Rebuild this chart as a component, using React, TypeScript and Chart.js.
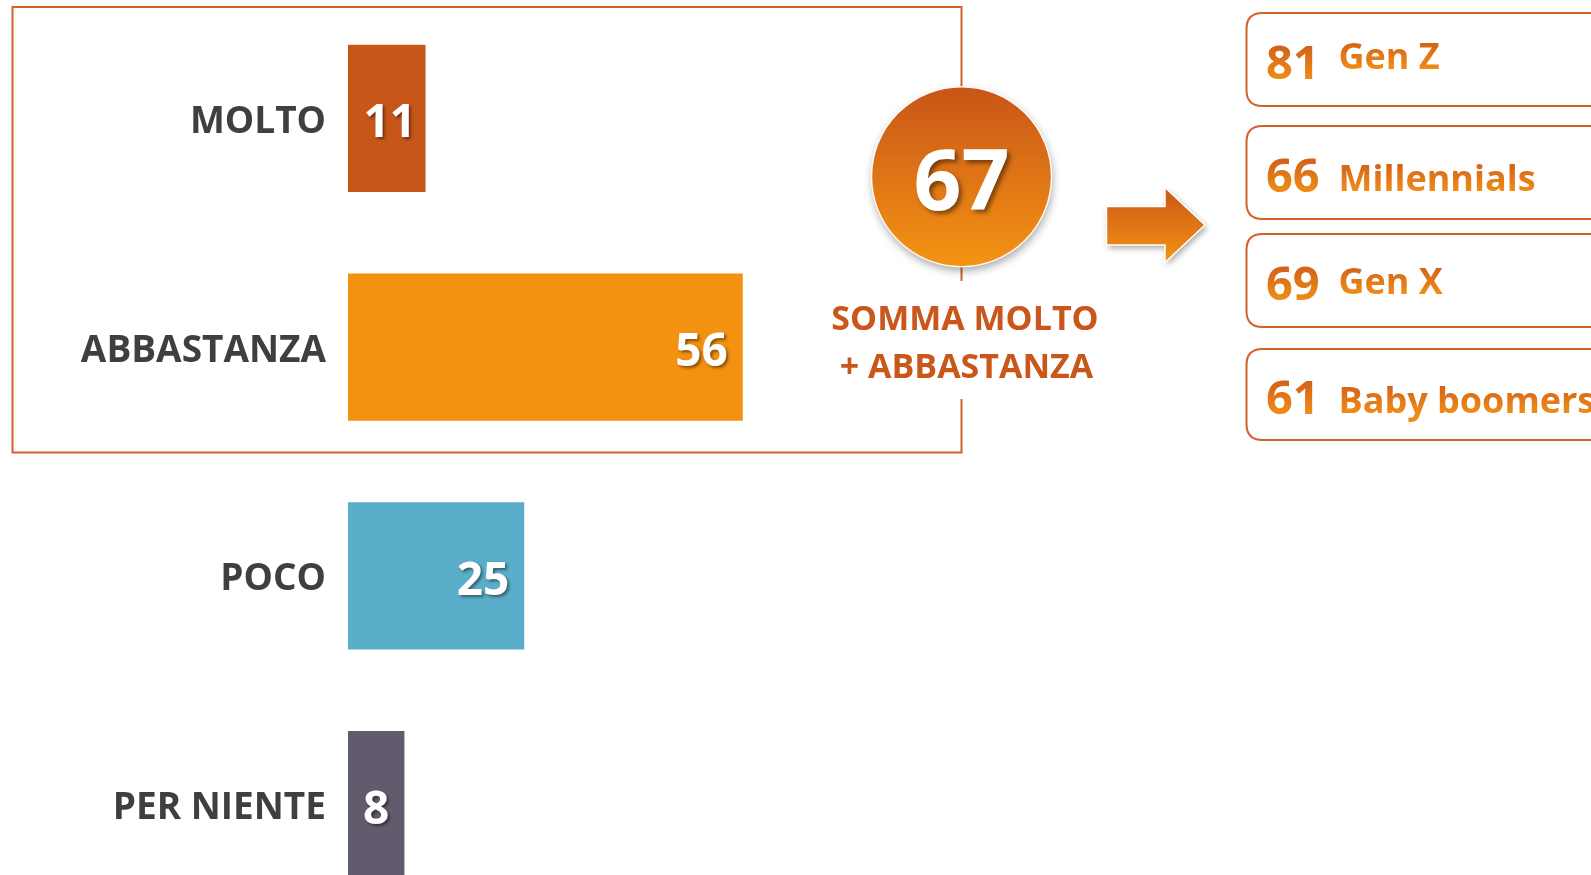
import React, { useEffect, useRef } from 'react';
import { Chart, registerables } from 'chart.js';

Chart.register(...registerables);

// ---------- data ----------
const categories = ['MOLTO', 'ABBASTANZA', 'POCO', 'PER NIENTE'];
const values = [11, 56, 25, 8];
const barColors = ['#C75719', '#F39111', '#5AAEC9', '#635A6E'];
const generations = ['Gen Z', 'Millennials', 'Gen X', 'Baby boomers'];
const generationValues = [81, 66, 69, 61];
const sumLabelLines = ['SOMMA MOLTO', '+ ABBASTANZA'];
const sumValue = values[0] + values[1];

// ---------- style ----------
const FONT = "'Open Sans', 'Noto Sans', sans-serif";
const W = 1591;
const H = 919;
const ORANGE_LINE = '#D2622A';
const boxTops = [13, 126, 234, 349];
const boxHeights = [93, 93, 93, 91];
const labelRaise = [10, 1, 6, 1];

const valueLabelPlugin = {
  id: 'valueLabels',
  afterDatasetsDraw(chart: any) {
    const ctx = chart.ctx as CanvasRenderingContext2D;
    const meta = chart.getDatasetMeta(0);
    ctx.save();
    ctx.font = `bold 46px ${FONT}`;
    ctx.fillStyle = '#FFFFFF';
    ctx.textAlign = 'center';
    ctx.textBaseline = 'alphabetic';
    ctx.shadowColor = 'rgba(0,0,0,0.45)';
    ctx.shadowOffsetX = 2;
    ctx.shadowOffsetY = 2;
    ctx.shadowBlur = 3;
    meta.data.forEach((bar: any, i: number) => {
      const { x, y, base } = bar.getProps(['x', 'y', 'base'], true);
      const text = String(values[i]);
      const tw = ctx.measureText(text).width;
      const bw = x - base;
      const tx = bw - tw > 60 ? x - 15 - tw / 2 : base + bw / 2 + (bw - tw < 30 ? 3 : 0);
      ctx.fillText(text, tx, y + 19);
    });
    ctx.restore();
  },
};

function roundRect(ctx: CanvasRenderingContext2D, x: number, y: number, w: number, h: number, r: number) {
  ctx.beginPath();
  ctx.moveTo(x + r, y);
  ctx.lineTo(x + w - r, y);
  ctx.quadraticCurveTo(x + w, y, x + w, y + r);
  ctx.lineTo(x + w, y + h - r);
  ctx.quadraticCurveTo(x + w, y + h, x + w - r, y + h);
  ctx.lineTo(x + r, y + h);
  ctx.quadraticCurveTo(x, y + h, x, y + h - r);
  ctx.lineTo(x, y + r);
  ctx.quadraticCurveTo(x, y, x + r, y);
  ctx.closePath();
}

const annotationPlugin = {
  id: 'annotations',
  afterDraw(chart: any) {
    const ctx = chart.ctx as CanvasRenderingContext2D;
    const cx = 961.5;
    const cy = 176.7;
    const r = 90;

    // frame around MOLTO + ABBASTANZA
    ctx.save();
    ctx.strokeStyle = ORANGE_LINE;
    ctx.lineWidth = 2;
    ctx.beginPath();
    ctx.moveTo(cx, cy - r);
    ctx.lineTo(cx, 7);
    ctx.lineTo(12.5, 7);
    ctx.lineTo(12.5, 452.5);
    ctx.lineTo(cx, 452.5);
    ctx.lineTo(cx, 399);
    ctx.moveTo(cx, cy + r);
    ctx.lineTo(cx, 281);
    ctx.stroke();
    ctx.restore();

    // circle
    ctx.save();
    ctx.shadowColor = 'rgba(0,0,0,0.35)';
    ctx.shadowBlur = 9;
    ctx.shadowOffsetX = 1;
    ctx.shadowOffsetY = 4;
    const g = ctx.createLinearGradient(0, cy - r, 0, cy + r);
    g.addColorStop(0, '#C85518');
    g.addColorStop(1, '#F49413');
    ctx.beginPath();
    ctx.arc(cx, cy, r, 0, Math.PI * 2);
    ctx.fillStyle = g;
    ctx.fill();
    ctx.restore();
    ctx.save();
    ctx.beginPath();
    ctx.arc(cx, cy, r, 0, Math.PI * 2);
    ctx.strokeStyle = 'rgba(255,255,255,0.95)';
    ctx.lineWidth = 1.5;
    ctx.stroke();
    ctx.restore();

    ctx.save();
    ctx.font = `bold 84px ${FONT}`;
    ctx.fillStyle = '#FFFFFF';
    ctx.textAlign = 'center';
    ctx.textBaseline = 'alphabetic';
    ctx.shadowColor = 'rgba(0,0,0,0.45)';
    ctx.shadowOffsetX = 3;
    ctx.shadowOffsetY = 3;
    ctx.shadowBlur = 4;
    ctx.fillText(String(sumValue), cx, 210);
    ctx.restore();

    // sum caption
    ctx.save();
    ctx.font = `bold 34px ${FONT}`;
    ctx.fillStyle = '#C9561A';
    ctx.textAlign = 'center';
    ctx.fillText(sumLabelLines[0], 965, 330);
    ctx.fillText(sumLabelLines[1], 966.5, 378);
    ctx.restore();

    // arrow
    ctx.save();
    ctx.shadowColor = 'rgba(0,0,0,0.35)';
    ctx.shadowBlur = 6;
    ctx.shadowOffsetX = 2;
    ctx.shadowOffsetY = 3;
    const ag = ctx.createLinearGradient(0, 187, 0, 263);
    ag.addColorStop(0, '#C95618');
    ag.addColorStop(1, '#F49413');
    ctx.beginPath();
    ctx.moveTo(1106.5, 206.5);
    ctx.lineTo(1165, 206.5);
    ctx.lineTo(1165, 187.5);
    ctx.lineTo(1205, 225);
    ctx.lineTo(1165, 262.5);
    ctx.lineTo(1165, 245);
    ctx.lineTo(1106.5, 245);
    ctx.closePath();
    ctx.fillStyle = ag;
    ctx.fill();
    ctx.shadowColor = 'transparent';
    ctx.strokeStyle = '#FFFFFF';
    ctx.lineWidth = 1.5;
    ctx.stroke();
    ctx.restore();

    // generation boxes
    generations.forEach((label, i) => {
      const top = boxTops[i];
      const h = boxHeights[i];
      ctx.save();
      roundRect(ctx, 1246.5, top, 400, h, 16);
      ctx.strokeStyle = ORANGE_LINE;
      ctx.lineWidth = 2;
      ctx.stroke();
      const baseline = top + h / 2 + 19;
      const tg = ctx.createLinearGradient(0, baseline - 36, 0, baseline);
      tg.addColorStop(0, '#CF5D19');
      tg.addColorStop(1, '#EF8C17');
      ctx.fillStyle = tg;
      ctx.textAlign = 'left';
      ctx.textBaseline = 'alphabetic';
      ctx.font = `bold 47px ${FONT}`;
      ctx.fillText(String(generationValues[i]), 1266, baseline);
      const lg = ctx.createLinearGradient(0, baseline - labelRaise[i] - 30, 0, baseline - labelRaise[i]);
      lg.addColorStop(0, '#CF5D19');
      lg.addColorStop(1, '#EF8C17');
      ctx.fillStyle = lg;
      ctx.font = `bold 36px ${FONT}`;
      ctx.fillText(label, 1338.5, baseline - labelRaise[i]);
      ctx.restore();
    });
  },
};

export default function App() {
  const ref = useRef<HTMLCanvasElement | null>(null);

  useEffect(() => {
    if (!ref.current) return;
    const chart = new Chart(ref.current, {
      type: 'bar',
      data: {
        labels: categories,
        datasets: [
          {
            data: values,
            backgroundColor: barColors,
            borderWidth: 0,
            barPercentage: 0.643,
            categoryPercentage: 1,
          },
        ],
      },
      options: {
        indexAxis: 'y',
        animation: false,
        responsive: false,
        devicePixelRatio: 1,
        layout: { padding: { left: 0, right: W - 348 - 705, top: 4, bottom: 0 } },
        plugins: {
          legend: { display: false },
          tooltip: { enabled: false },
          title: { display: false },
        },
        scales: {
          x: { display: false, min: 0, max: 100 },
          y: {
            grid: { display: false, drawTicks: false },
            border: { display: false },
            ticks: {
              color: '#3F3F3F',
              padding: 22,
              labelOffset: 4,
              font: { family: FONT, size: 37, weight: 'bold' },
            },
            afterFit: (scale: any) => {
              scale.width = 348;
              scale.paddingTop = 0;
              scale.paddingBottom = 0;
            },
          },
        },
      },
      plugins: [valueLabelPlugin, annotationPlugin],
    } as any);
    return () => chart.destroy();
  }, []);

  return (
    <div
      style={{
        position: 'absolute',
        left: 0,
        top: 0,
        width: W,
        height: 875,
        overflow: 'hidden',
        background: '#FFFFFF',
      }}
    >
      <canvas ref={ref} width={W} height={H} style={{ display: 'block' }} />
    </div>
  );
}
